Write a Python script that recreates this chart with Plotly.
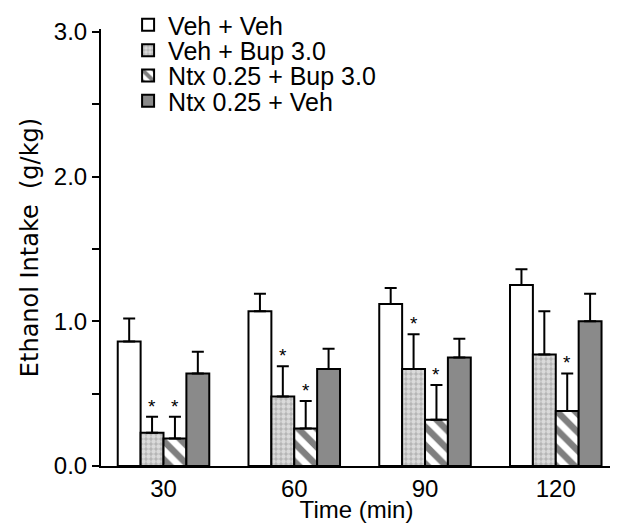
import plotly.graph_objects as go

times = ["30", "60", "90", "120"]
series_names = ["Veh + Veh", "Veh + Bup 3.0", "Ntx 0.25 + Bup 3.0", "Ntx 0.25 + Veh"]
means = [
    [0.86, 1.07, 1.12, 1.25],
    [0.23, 0.48, 0.67, 0.77],
    [0.19, 0.26, 0.32, 0.38],
    [0.64, 0.67, 0.75, 1.00],
]
err_tops = [
    [1.02, 1.19, 1.23, 1.36],
    [0.34, 0.69, 0.91, 1.07],
    [0.34, 0.45, 0.56, 0.64],
    [0.79, 0.81, 0.88, 1.19],
]
signif = [
    [False, False, False, False],
    [True, True, True, False],
    [True, True, True, True],
    [False, False, False, False],
]
y_ticks = [0, 1, 2, 3]
y_ticklabels = ["0.0", "1.0", "2.0", "3.0"]

FONT = "Liberation Sans, Arial, sans-serif"
xs = list(range(len(times)))

styles = [
    dict(color="white", pattern=dict(shape="")),
    dict(color="#d0d0d0", pattern=dict(shape=".", fgcolor="white", bgcolor="#b4b4b4", size=5, solidity=0.6)),
    dict(color="white", pattern=dict(shape="\\", fgcolor="black", bgcolor="white", size=13, solidity=0.5)),
    dict(color="#8a8a8a", pattern=dict(shape="")),
]

legend_names = ["legend", "legend2", "legend3", "legend4"]
legend_y = [1.009, 0.951, 0.893, 0.835]

fig = go.Figure()
for i, name in enumerate(series_names):
    st = styles[i]
    fig.add_trace(go.Bar(
        x=xs, y=means[i], name=name, legend=legend_names[i],
        marker=dict(color=st["color"], pattern=st["pattern"],
                    line=dict(color="black", width=2)),
        error_y=dict(type="data", symmetric=False,
                     array=[e - m for e, m in zip(err_tops[i], means[i])],
                     arrayminus=[0] * len(times),
                     color="black", thickness=2, width=6),
    ))

bargap = 0.30
nser = len(series_names)
bw = (1 - bargap) / nser
annotations = []
for i in range(nser):
    for j, x in enumerate(xs):
        if signif[i][j]:
            annotations.append(dict(
                x=x + (i - (nser - 1) / 2) * bw, y=err_tops[i][j],
                xref="x", yref="y", text="*", showarrow=False,
                yanchor="bottom", yshift=-2,
                font=dict(family=FONT, size=19, color="black")))

legend_common = dict(xanchor="left", yanchor="middle", bgcolor="rgba(0,0,0,0)",
                     font=dict(size=25, family=FONT, color="black"), itemwidth=30)

# page body has an 8px margin, so the figure is drawn 8px in from the top-left corner
fig.update_layout(
    width=610, height=515,
    paper_bgcolor="white", plot_bgcolor="white",
    margin=dict(l=93, r=6, t=21, b=57, autoexpand=False),
    barmode="group", bargap=bargap, bargroupgap=0,
    font=dict(family=FONT, color="black"),
    showlegend=True,
    annotations=annotations,
    xaxis=dict(
        range=[-0.478, 3.43], tickvals=xs, ticktext=times, automargin=False,
        showline=True, linecolor="black", linewidth=2,
        ticks="", showgrid=False, zeroline=False,
        tickfont=dict(size=24, family=FONT),
        title=dict(text="Time (min)", font=dict(size=24, family=FONT), standoff=0),
    ),
    yaxis=dict(
        range=[0, 3.02], tickvals=y_ticks, ticktext=y_ticklabels, automargin=False,
        showline=True, linecolor="black", linewidth=2,
        ticks="outside", ticklen=7, tickwidth=2, tickcolor="black",
        minor=dict(dtick=0.5, ticks="outside", ticklen=7, tickwidth=2, tickcolor="black", showgrid=False),
        showgrid=False, zeroline=False,
        tickfont=dict(size=24, family=FONT),
        title=dict(text="Ethanol Intake  (g/kg)",
                   font=dict(size=24, family="DejaVu Sans, Verdana, sans-serif"), standoff=8),
    ),
)
for name, yv in zip(legend_names, legend_y):
    fig.update_layout({name: dict(legend_common, x=0.053, y=yv)})

fig.write_html("out.html")
